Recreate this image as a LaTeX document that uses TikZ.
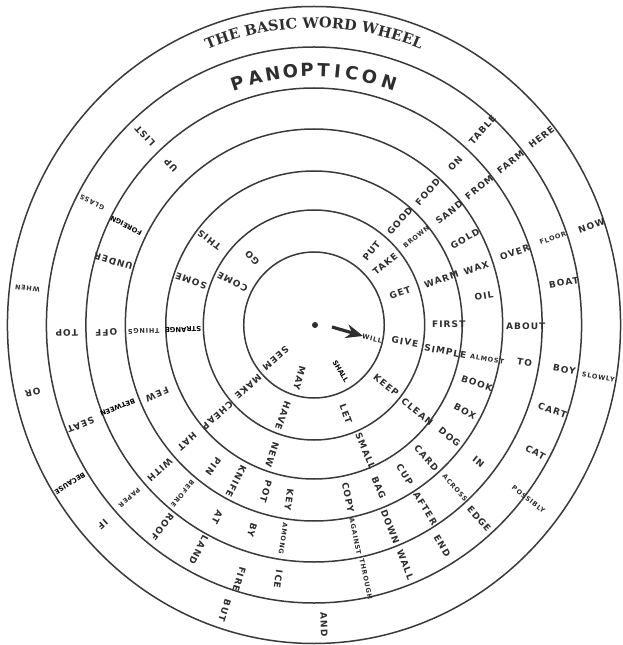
\documentclass[tikz,border=0pt]{standalone}
\usepackage{fontspec}
\newfontfamily\wordfont{DejaVu Sans}[LetterSpace=12]
\newfontfamily\heavyfont{DejaVu Sans}
\newfontfamily\panfont{DejaVu Sans}
\newfontfamily\titlefont{DejaVu Serif}
\usetikzlibrary{decorations.text,arrows.meta}
\definecolor{ink}{HTML}{2E2E2E}
\definecolor{linec}{HTML}{3A3A3A}
\begin{document}
\begin{tikzpicture}[x=1pt,y=1pt,
  ring/.style={draw=linec,line width=1.5pt},
  wd/.style={text=ink,font=\wordfont\bfseries\fontsize{9}{9}\selectfont,inner sep=0pt},
  wds/.style={text=ink,font=\wordfont\bfseries\fontsize{6.5}{6.5}\selectfont,inner sep=0pt},
  wdh/.style={text=black,font=\heavyfont\bfseries\fontsize{6.8}{6.8}\selectfont,inner sep=0pt},
  pan/.style={text=ink,font=\panfont\bfseries\fontsize{18}{18}\selectfont,inner sep=0pt},
  pointer/.style={draw=ink,line width=3.2pt,-{Stealth[length=17pt,width=14pt]}},
]
\useasboundingbox (-314,-320) rectangle (309,325);
\fill[white] (-314,-320) rectangle (309,325);
\begin{scope}[xscale=0.9625]
  \foreach \rr in {73,115,154,196,237,278,318.5}
    \draw[ring] (0,0) circle[radius=\rr];
  % normal words
  \foreach \a/\r/\w [count=\i] in {
    -106/55/MAY, -140/52/SEEM,
    51/95/PUT, 39.6/96/TAKE, 19.8/95/GET, -10/96/GIVE, -38.7/96/KEEP,
    -69.6/95/LET, -109.6/96/HAVE, -138/92/MAKE, 153/95/COME, 133.7/93/GO,
    49.4/137/GOOD, 19/140/WARM, 0.4/140/FIRST, -11/139/SIMPLE,
    -39/138/CLEAN, -67/137/SMALL, -108.5/137/NEW, -138/135/CHEAP,
    161/135/SOME, 142/138/THIS,
    48.4/178/FOOD, 38.7/180/SAND, 28.8/179/GOLD, 18.7/178/WAX, 9.3/179/OIL,
    -19/179/BOOK, -28.8/179/BOX, -38.5/180/DOG, -48.7/177/CARD,
    -57.8/177/CUP, -67.5/176/BAG, -78.4/176/COPY, -98.4/177/KEY,
    -106.7/174/POT, -117.4/176/KNIFE, -126.5/176/PIN, -138.5/176/HAT,
    -157/177/FEW,
    47.7/218/ON, 38.7/220/FROM, 19.2/221/OVER, -0.3/220/ABOUT, -9.8/222/TO,
    -38.7/219/IN, -57.8/217/AFTER, -68.6/217/DOWN, -107.4/215/BY,
    -117.6/217/AT, -137.8/216/WITH, 182/216/OFF, 163/218/UNDER, 133/218/UP,
    48.1/262/TABLE, 38.5/261/FARM, 9.3/263/BOAT, -9.7/264/BOY,
    -19/262/CART, -29/263/CAT, -48.5/259/EDGE, -58.9/258/END,
    -68.4/258/WALL, -98.3/257/ICE, -107/266/FIRE, -118/255/LAND,
    -128/256/ROOF, -157.6/262/SEAT, 181.8/257/TOP, 132.9/258/LIST,
    38.5/302/HERE, 19/305/NOW, -88/300/AND, -108/300/BUT,
    -137.7/297/IF, -167/300/OR}
    \node[wd,rotate=\a] (w\i) at (\a:\r) {\w};
  % small words
  \foreach \a/\r/\w [count=\i] in {
    -13/62/WILL,
    39.7/138/BROWN, -10.7/183/ALMOST, 182/177/THINGS,
    -48/219/ACROSS, -78.5/216/AGAINST, -98.5/216/AMONG, -129/217/BEFORE,
    19.3/263/FLOOR, -38/283/POSSIBLY, -78/260/THROUGH, -138/258/PAPER,
    152/261/GLASS,
    -10/300/SLOWLY, 173/300/WHEN}
    \node[wds,rotate=\a] (s\i) at (\a:\r) {\w};
  % heavy words
  \foreach \a/\r/\w [count=\i] in {
    -59/54/SHALL, 182/136/STRANGE, 153/219/FOREIGN, -158/220/BETWEEN,
    -148/299/BECAUSE}
    \node[wdh,rotate=\a] (h\i) at (\a:\r) {\w};
  % PANOPTICON
  \foreach \l/\a [count=\i] in {P/108.2,A/103.9,N/99.7,O/95.5,P/91.6,
      T/87.8,I/84.5,C/81.1,O/76.9,N/72.2}
    \node[pan,rotate=\a-90] (p\i) at (\a:255) {\l};
\end{scope}
% title along the outer band
\path[decorate,decoration={text along path,text align=center,text color=ink,
   text={|\titlefont\bfseries\fontsize{14.5}{14.5}\selectfont|THE BASIC WORD WHEEL}}]
   (155:286 and 297) arc[start angle=155,end angle=25,x radius=286,y radius=297];
% hub and pointer
\node[circle,fill=ink,inner sep=0pt,minimum size=6pt] (hub) at (1,0) {};
\coordinate (atail) at (18,-2);
\coordinate (atip) at (49,-11);
\draw[pointer] (atail) -- (atip);
\end{tikzpicture}
\end{document}
